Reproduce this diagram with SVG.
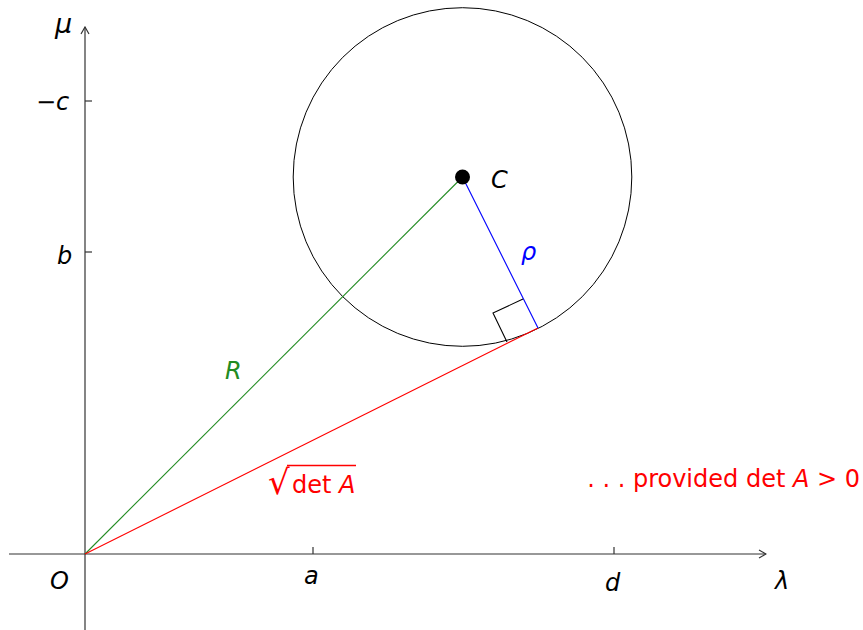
<svg xmlns="http://www.w3.org/2000/svg" width="863" height="630" viewBox="0 0 863 630">
<style>
.t{font-family:"DejaVu Sans","Liberation Sans",sans-serif;font-size:24px}
.i{font-style:italic}
.ax{stroke:#333;stroke-width:1.2;fill:none}
</style>
<defs>
<marker id="ar" viewBox="0 0 10 10" refX="9" refY="5" markerWidth="10" markerHeight="10" markerUnits="userSpaceOnUse" orient="auto">
<path d="M2,1 L9,5 L2,9" fill="none" stroke="#333" stroke-width="1.2"/>
</marker>
</defs>
<rect width="863" height="630" fill="#fff"/>
<g id="axes">
<line class="ax" x1="9" y1="554" x2="766" y2="554" marker-end="url(#ar)"/>
<line class="ax" x1="85" y1="630" x2="85" y2="27" marker-end="url(#ar)"/>
<line class="ax" x1="313" y1="554" x2="313" y2="547"/>
<line class="ax" x1="614" y1="554" x2="614" y2="547"/>
<line class="ax" x1="85" y1="252" x2="92" y2="252"/>
<line class="ax" x1="85" y1="101" x2="92" y2="101"/>
</g>
<g id="circle">
<circle cx="462.5" cy="177" r="169.3" fill="none" stroke="#000" stroke-width="1"/>
</g>
<g id="connectors">
<line x1="85" y1="554" x2="462.5" y2="177" stroke="#228B22" stroke-width="1.1"/>
<line x1="85" y1="554" x2="538" y2="328" stroke="#f00" stroke-width="1.1"/>
<line x1="462.5" y1="177" x2="538" y2="328" stroke="#00f" stroke-width="1.1"/>
<path d="M523,299 L493,313 L507,342" fill="none" stroke="#000" stroke-width="1.1"/>
</g>
<g id="center">
<circle cx="462.5" cy="177" r="7.5" fill="#000"/>
</g>
<g id="labels">
<text class="t i" x="55" y="33" style="font-size:27px">μ</text>
<text class="t" x="36" y="110">−<tspan class="i">c</tspan></text>
<text class="t i" x="57" y="264">b</text>
<text class="t i" x="491" y="188">C</text>
<text class="t i" x="521" y="260" fill="#00f">ρ</text>
<text class="t i" x="225" y="379" fill="#228B22">R</text>
<text class="t" x="268" y="494" fill="#f00" style="font-size:34px">√</text>
<line x1="287" y1="465.5" x2="356" y2="465.5" stroke="#f00" stroke-width="1.3"/>
<text class="t" x="292" y="493" fill="#f00">det <tspan class="i">A</tspan></text>
<text class="t" x="860" y="487" fill="#f00" text-anchor="end">. . . provided det <tspan class="i">A</tspan> &gt; 0</text>
<text class="t i" x="50" y="589">O</text>
<text class="t i" x="304" y="584">a</text>
<text class="t i" x="605" y="591">d</text>
<text class="t i" x="775" y="589">λ</text>
</g>
</svg>
